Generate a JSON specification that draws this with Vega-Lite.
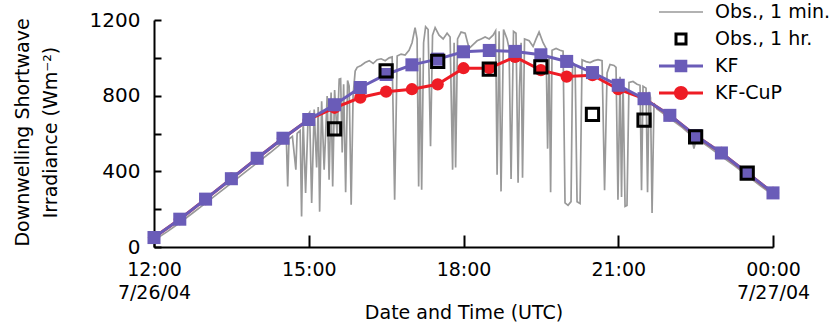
{
  "$schema": "https://vega.github.io/schema/vega-lite/v6.json",
  "width": 619,
  "height": 227,
  "autosize": {"type": "none"},
  "padding": {"left": 154, "top": 20, "right": 62, "bottom": 78},
  "background": "white",
  "config": {
    "view": {"stroke": null},
    "font": "DejaVu Sans",
    "axis": {
      "domainColor": "black", "domainWidth": 2, "tickColor": "black", "tickWidth": 2,
      "labelFont": "DejaVu Sans", "labelFontSize": 19, "labelColor": "black",
      "titleFont": "DejaVu Sans", "titleFontSize": 19, "titleFontWeight": "normal", "titleColor": "black",
      "grid": false
    },
    "legend": {"labelFont": "DejaVu Sans", "labelFontSize": 19, "labelColor": "black"}
  },
  "datasets": {
    "min1": [
      {"t": "2004-07-26T12:00:00Z", "v": 35},
      {"t": "2004-07-26T12:15:00Z", "v": 80},
      {"t": "2004-07-26T12:30:00Z", "v": 128},
      {"t": "2004-07-26T12:45:00Z", "v": 180},
      {"t": "2004-07-26T13:00:00Z", "v": 232},
      {"t": "2004-07-26T13:15:00Z", "v": 285},
      {"t": "2004-07-26T13:30:00Z", "v": 338},
      {"t": "2004-07-26T13:45:00Z", "v": 392},
      {"t": "2004-07-26T14:00:00Z", "v": 445},
      {"t": "2004-07-26T14:15:00Z", "v": 498},
      {"t": "2004-07-26T14:29:00Z", "v": 550},
      {"t": "2004-07-26T14:34:00Z", "v": 562},
      {"t": "2004-07-26T14:35:30Z", "v": 320},
      {"t": "2004-07-26T14:37:00Z", "v": 570},
      {"t": "2004-07-26T14:41:00Z", "v": 585},
      {"t": "2004-07-26T14:45:00Z", "v": 409},
      {"t": "2004-07-26T14:46:30Z", "v": 600},
      {"t": "2004-07-26T14:50:00Z", "v": 615},
      {"t": "2004-07-26T14:51:40Z", "v": 161},
      {"t": "2004-07-26T14:53:30Z", "v": 674},
      {"t": "2004-07-26T14:56:20Z", "v": 285},
      {"t": "2004-07-26T14:59:20Z", "v": 700},
      {"t": "2004-07-26T15:01:00Z", "v": 711},
      {"t": "2004-07-26T15:03:24Z", "v": 233},
      {"t": "2004-07-26T15:06:20Z", "v": 727},
      {"t": "2004-07-26T15:09:10Z", "v": 420},
      {"t": "2004-07-26T15:11:00Z", "v": 740},
      {"t": "2004-07-26T15:12:40Z", "v": 187},
      {"t": "2004-07-26T15:15:00Z", "v": 770},
      {"t": "2004-07-26T15:17:55Z", "v": 409},
      {"t": "2004-07-26T15:21:25Z", "v": 798},
      {"t": "2004-07-26T15:23:40Z", "v": 356},
      {"t": "2004-07-26T15:26:00Z", "v": 817},
      {"t": "2004-07-26T15:27:50Z", "v": 320},
      {"t": "2004-07-26T15:30:05Z", "v": 830},
      {"t": "2004-07-26T15:33:00Z", "v": 586},
      {"t": "2004-07-26T15:35:25Z", "v": 887},
      {"t": "2004-07-26T15:37:05Z", "v": 890},
      {"t": "2004-07-26T15:38:55Z", "v": 500},
      {"t": "2004-07-26T15:40:35Z", "v": 860},
      {"t": "2004-07-26T15:42:55Z", "v": 290},
      {"t": "2004-07-26T15:45:10Z", "v": 880},
      {"t": "2004-07-26T15:47:00Z", "v": 850},
      {"t": "2004-07-26T15:49:20Z", "v": 223},
      {"t": "2004-07-26T15:51:35Z", "v": 800},
      {"t": "2004-07-26T15:54:00Z", "v": 930},
      {"t": "2004-07-26T15:56:20Z", "v": 950},
      {"t": "2004-07-26T16:00:55Z", "v": 960},
      {"t": "2004-07-26T16:05:35Z", "v": 975},
      {"t": "2004-07-26T16:10:20Z", "v": 985},
      {"t": "2004-07-26T16:14:55Z", "v": 970},
      {"t": "2004-07-26T16:19:35Z", "v": 990},
      {"t": "2004-07-26T16:24:10Z", "v": 995},
      {"t": "2004-07-26T16:28:55Z", "v": 985},
      {"t": "2004-07-26T16:33:30Z", "v": 1000},
      {"t": "2004-07-26T16:37:00Z", "v": 1005},
      {"t": "2004-07-26T16:39:55Z", "v": 250},
      {"t": "2004-07-26T16:42:50Z", "v": 1010},
      {"t": "2004-07-26T16:47:25Z", "v": 1020},
      {"t": "2004-07-26T16:52:05Z", "v": 1015},
      {"t": "2004-07-26T16:56:40Z", "v": 1040},
      {"t": "2004-07-26T17:00:10Z", "v": 1080},
      {"t": "2004-07-26T17:03:40Z", "v": 1160},
      {"t": "2004-07-26T17:06:00Z", "v": 1100},
      {"t": "2004-07-26T17:07:50Z", "v": 320},
      {"t": "2004-07-26T17:09:30Z", "v": 1000},
      {"t": "2004-07-26T17:11:20Z", "v": 303},
      {"t": "2004-07-26T17:13:35Z", "v": 1080},
      {"t": "2004-07-26T17:15:55Z", "v": 1165},
      {"t": "2004-07-26T17:18:50Z", "v": 1150},
      {"t": "2004-07-26T17:21:40Z", "v": 533},
      {"t": "2004-07-26T17:24:00Z", "v": 1120},
      {"t": "2004-07-26T17:27:00Z", "v": 1160},
      {"t": "2004-07-26T17:31:35Z", "v": 1120},
      {"t": "2004-07-26T17:36:20Z", "v": 1100},
      {"t": "2004-07-26T17:40:55Z", "v": 1130},
      {"t": "2004-07-26T17:44:25Z", "v": 1110},
      {"t": "2004-07-26T17:47:20Z", "v": 409},
      {"t": "2004-07-26T17:49:05Z", "v": 1080},
      {"t": "2004-07-26T17:50:50Z", "v": 420},
      {"t": "2004-07-26T17:53:05Z", "v": 1100},
      {"t": "2004-07-26T17:57:10Z", "v": 1136},
      {"t": "2004-07-26T18:01:55Z", "v": 1130},
      {"t": "2004-07-26T18:06:30Z", "v": 1050},
      {"t": "2004-07-26T18:11:10Z", "v": 1070},
      {"t": "2004-07-26T18:15:50Z", "v": 1090},
      {"t": "2004-07-26T18:20:30Z", "v": 1100},
      {"t": "2004-07-26T18:25:10Z", "v": 1110},
      {"t": "2004-07-26T18:29:50Z", "v": 1100},
      {"t": "2004-07-26T18:34:25Z", "v": 1120},
      {"t": "2004-07-26T18:37:20Z", "v": 1143},
      {"t": "2004-07-26T18:39:05Z", "v": 382},
      {"t": "2004-07-26T18:41:25Z", "v": 1140},
      {"t": "2004-07-26T18:43:40Z", "v": 294},
      {"t": "2004-07-26T18:46:35Z", "v": 1150},
      {"t": "2004-07-26T18:50:40Z", "v": 1100},
      {"t": "2004-07-26T18:53:00Z", "v": 1050},
      {"t": "2004-07-26T18:55:20Z", "v": 360},
      {"t": "2004-07-26T18:58:10Z", "v": 1140},
      {"t": "2004-07-26T19:01:05Z", "v": 1130},
      {"t": "2004-07-26T19:03:30Z", "v": 340},
      {"t": "2004-07-26T19:05:10Z", "v": 844},
      {"t": "2004-07-26T19:07:00Z", "v": 1080},
      {"t": "2004-07-26T19:08:40Z", "v": 366},
      {"t": "2004-07-26T19:11:00Z", "v": 1100},
      {"t": "2004-07-26T19:16:20Z", "v": 1090},
      {"t": "2004-07-26T19:20:55Z", "v": 1060},
      {"t": "2004-07-26T19:24:25Z", "v": 1100},
      {"t": "2004-07-26T19:27:55Z", "v": 1136},
      {"t": "2004-07-26T19:32:35Z", "v": 1080},
      {"t": "2004-07-26T19:36:05Z", "v": 1050},
      {"t": "2004-07-26T19:37:50Z", "v": 520},
      {"t": "2004-07-26T19:39:35Z", "v": 1000},
      {"t": "2004-07-26T19:41:20Z", "v": 290},
      {"t": "2004-07-26T19:43:00Z", "v": 1040},
      {"t": "2004-07-26T19:47:40Z", "v": 1050},
      {"t": "2004-07-26T19:52:20Z", "v": 1040},
      {"t": "2004-07-26T19:55:50Z", "v": 1035},
      {"t": "2004-07-26T19:58:05Z", "v": 233},
      {"t": "2004-07-26T20:01:35Z", "v": 220},
      {"t": "2004-07-26T20:05:05Z", "v": 240},
      {"t": "2004-07-26T20:06:55Z", "v": 975},
      {"t": "2004-07-26T20:09:50Z", "v": 960},
      {"t": "2004-07-26T20:12:05Z", "v": 239},
      {"t": "2004-07-26T20:15:35Z", "v": 230},
      {"t": "2004-07-26T20:17:55Z", "v": 990},
      {"t": "2004-07-26T20:22:35Z", "v": 980},
      {"t": "2004-07-26T20:27:10Z", "v": 975},
      {"t": "2004-07-26T20:31:55Z", "v": 985},
      {"t": "2004-07-26T20:36:30Z", "v": 990},
      {"t": "2004-07-26T20:41:10Z", "v": 985},
      {"t": "2004-07-26T20:44:05Z", "v": 300},
      {"t": "2004-07-26T20:47:00Z", "v": 920},
      {"t": "2004-07-26T20:50:25Z", "v": 965},
      {"t": "2004-07-26T20:55:05Z", "v": 960},
      {"t": "2004-07-26T20:57:25Z", "v": 950},
      {"t": "2004-07-26T20:59:40Z", "v": 250},
      {"t": "2004-07-26T21:02:05Z", "v": 900},
      {"t": "2004-07-26T21:03:50Z", "v": 265},
      {"t": "2004-07-26T21:05:35Z", "v": 870},
      {"t": "2004-07-26T21:07:55Z", "v": 215},
      {"t": "2004-07-26T21:10:10Z", "v": 220},
      {"t": "2004-07-26T21:12:30Z", "v": 870},
      {"t": "2004-07-26T21:17:10Z", "v": 875},
      {"t": "2004-07-26T21:21:50Z", "v": 860},
      {"t": "2004-07-26T21:25:20Z", "v": 855},
      {"t": "2004-07-26T21:27:05Z", "v": 300},
      {"t": "2004-07-26T21:28:50Z", "v": 850},
      {"t": "2004-07-26T21:32:20Z", "v": 840},
      {"t": "2004-07-26T21:34:05Z", "v": 290},
      {"t": "2004-07-26T21:35:50Z", "v": 820},
      {"t": "2004-07-26T21:37:30Z", "v": 790},
      {"t": "2004-07-26T21:39:20Z", "v": 180},
      {"t": "2004-07-26T21:41:35Z", "v": 760},
      {"t": "2004-07-26T21:45:00Z", "v": 730},
      {"t": "2004-07-26T22:00:00Z", "v": 680},
      {"t": "2004-07-26T22:15:00Z", "v": 630},
      {"t": "2004-07-26T22:25:00Z", "v": 590},
      {"t": "2004-07-26T22:28:00Z", "v": 520},
      {"t": "2004-07-26T22:31:00Z", "v": 575},
      {"t": "2004-07-26T22:45:00Z", "v": 530},
      {"t": "2004-07-26T23:00:00Z", "v": 480},
      {"t": "2004-07-26T23:15:00Z", "v": 430},
      {"t": "2004-07-26T23:30:00Z", "v": 378},
      {"t": "2004-07-26T23:45:00Z", "v": 325},
      {"t": "2004-07-26T23:55:00Z", "v": 292}
    ],
    "kf": [
      {"t": "2004-07-26T12:00:00Z", "v": 50},
      {"t": "2004-07-26T12:30:00Z", "v": 147},
      {"t": "2004-07-26T13:00:00Z", "v": 253},
      {"t": "2004-07-26T13:30:00Z", "v": 361},
      {"t": "2004-07-26T14:00:00Z", "v": 469},
      {"t": "2004-07-26T14:30:00Z", "v": 575},
      {"t": "2004-07-26T15:00:00Z", "v": 674},
      {"t": "2004-07-26T15:30:00Z", "v": 752},
      {"t": "2004-07-26T16:00:00Z", "v": 843},
      {"t": "2004-07-26T16:30:00Z", "v": 912},
      {"t": "2004-07-26T17:00:00Z", "v": 963},
      {"t": "2004-07-26T17:30:00Z", "v": 993},
      {"t": "2004-07-26T18:00:00Z", "v": 1032},
      {"t": "2004-07-26T18:30:00Z", "v": 1039},
      {"t": "2004-07-26T19:00:00Z", "v": 1034},
      {"t": "2004-07-26T19:30:00Z", "v": 1016},
      {"t": "2004-07-26T20:00:00Z", "v": 981},
      {"t": "2004-07-26T20:30:00Z", "v": 922},
      {"t": "2004-07-26T21:00:00Z", "v": 855},
      {"t": "2004-07-26T21:30:00Z", "v": 784},
      {"t": "2004-07-26T22:00:00Z", "v": 696},
      {"t": "2004-07-26T22:30:00Z", "v": 589},
      {"t": "2004-07-26T23:00:00Z", "v": 497},
      {"t": "2004-07-26T23:30:00Z", "v": 391},
      {"t": "2004-07-27T00:00:00Z", "v": 286}
    ],
    "cup": [
      {"t": "2004-07-26T12:00:00Z", "v": 50},
      {"t": "2004-07-26T12:30:00Z", "v": 147},
      {"t": "2004-07-26T13:00:00Z", "v": 253},
      {"t": "2004-07-26T13:30:00Z", "v": 361},
      {"t": "2004-07-26T14:00:00Z", "v": 469},
      {"t": "2004-07-26T14:30:00Z", "v": 575},
      {"t": "2004-07-26T15:00:00Z", "v": 674},
      {"t": "2004-07-26T15:30:00Z", "v": 736},
      {"t": "2004-07-26T16:00:00Z", "v": 790},
      {"t": "2004-07-26T16:30:00Z", "v": 821},
      {"t": "2004-07-26T17:00:00Z", "v": 834},
      {"t": "2004-07-26T17:30:00Z", "v": 860},
      {"t": "2004-07-26T18:00:00Z", "v": 945},
      {"t": "2004-07-26T18:30:00Z", "v": 945},
      {"t": "2004-07-26T19:00:00Z", "v": 1005},
      {"t": "2004-07-26T19:30:00Z", "v": 935},
      {"t": "2004-07-26T20:00:00Z", "v": 901},
      {"t": "2004-07-26T20:30:00Z", "v": 908},
      {"t": "2004-07-26T21:00:00Z", "v": 834},
      {"t": "2004-07-26T21:30:00Z", "v": 784},
      {"t": "2004-07-26T22:00:00Z", "v": 696},
      {"t": "2004-07-26T22:30:00Z", "v": 589},
      {"t": "2004-07-26T23:00:00Z", "v": 497},
      {"t": "2004-07-26T23:30:00Z", "v": 391},
      {"t": "2004-07-27T00:00:00Z", "v": 286}
    ],
    "hr": [
      {"t": "2004-07-26T15:30:00Z", "v": 625},
      {"t": "2004-07-26T16:30:00Z", "v": 931},
      {"t": "2004-07-26T17:30:00Z", "v": 981},
      {"t": "2004-07-26T18:30:00Z", "v": 940},
      {"t": "2004-07-26T19:30:00Z", "v": 952},
      {"t": "2004-07-26T20:30:00Z", "v": 701},
      {"t": "2004-07-26T21:30:00Z", "v": 671},
      {"t": "2004-07-26T22:30:00Z", "v": 582},
      {"t": "2004-07-26T23:30:00Z", "v": 391}
    ],
    "series": [
      {"series": "Obs., 1 min."},
      {"series": "Obs., 1 hr."},
      {"series": "KF"},
      {"series": "KF-CuP"}
    ],
    "panel": [{"label": "c."}]
  },
  "encoding": {
    "x": {
      "field": "t", "type": "temporal",
      "scale": {"type": "utc", "domain": [{"year": 2004, "month": 7, "date": 26, "hours": 12, "utc": true}, {"year": 2004, "month": 7, "date": 27, "hours": 0, "utc": true}]},
      "axis": {
        "values": [
          {"year": 2004, "month": 7, "date": 26, "hours": 12, "utc": true},
          {"year": 2004, "month": 7, "date": 26, "hours": 15, "utc": true},
          {"year": 2004, "month": 7, "date": 26, "hours": 18, "utc": true},
          {"year": 2004, "month": 7, "date": 26, "hours": 21, "utc": true},
          {"year": 2004, "month": 7, "date": 27, "hours": 0, "utc": true}
        ],
        "labelExpr": "utcFormat(datum.value, '%H') == '12' ? ['12:00', '7/26/04'] : (utcFormat(datum.value, '%H') == '00' ? ['00:00', '7/27/04'] : utcFormat(datum.value, '%H:%M'))",
        "tickSize": -12,
        "labelPadding": 25,
        "labelFlush": false,
        "labelOverlap": false,
        "labelBound": false,
        "labelLineHeight": 23,
        "title": "Date and Time (UTC)",
        "titleBaseline": "alphabetic",
        "titleY": 71
      }
    },
    "y": {
      "field": "v", "type": "quantitative",
      "scale": {"domain": [0, 1200], "nice": false, "zero": true},
      "axis": {
        "values": [0, 200, 400, 600, 800, 1000, 1200],
        "labelExpr": "datum.value % 400 == 0 ? format(datum.value, 'd') : ''",
        "tickSize": -7,
        "labelPadding": 21,
        "labelOverlap": false,
        "labelBound": false,
        "labelFontSize": 20,
        "title": ["Downwelling Shortwave", "Irradiance (Wm⁻²)"],
        "titleLineHeight": 28,
        "titleAngle": -90,
        "titleBaseline": "middle",
        "titleAlign": "center",
        "titleX": -132,
        "titleY": 112
      }
    }
  },
  "layer": [
    {
      "data": {"name": "min1"},
      "mark": {"type": "line", "color": "#999999", "strokeWidth": 1.7, "clip": true}
    },
    {
      "data": {"name": "cup"},
      "mark": {"type": "line", "color": "#ee1c25", "strokeWidth": 3}
    },
    {
      "data": {"name": "cup"},
      "mark": {"type": "point", "shape": "circle", "filled": true, "color": "#ee1c25", "size": 150, "opacity": 1}
    },
    {
      "data": {"name": "kf"},
      "mark": {"type": "line", "color": "#6a5cb8", "strokeWidth": 3}
    },
    {
      "data": {"name": "kf"},
      "mark": {"type": "point", "shape": "square", "filled": true, "color": "#6a5cb8", "size": 170, "opacity": 1}
    },
    {
      "data": {"name": "hr"},
      "mark": {"type": "point", "shape": "square", "filled": false, "stroke": "black", "strokeWidth": 3, "fill": null, "size": 150, "opacity": 1}
    },
    {
      "data": {"name": "panel"},
      "mark": {"type": "text", "align": "left", "baseline": "middle", "fontSize": 20, "font": "DejaVu Sans", "color": "black"},
      "encoding": {
        "x": {"datum": {"year": 2004, "month": 7, "date": 26, "hours": 12, "minutes": 11, "utc": true}, "type": "temporal"},
        "y": {"datum": 1090, "type": "quantitative"},
        "text": {"field": "label"}
      }
    },
    {
      "data": {"name": "series"},
      "transform": [{"filter": "datum.series == 'none'"}],
      "mark": {"type": "point", "filled": true, "size": 400, "opacity": 1, "strokeWidth": 0},
      "encoding": {
        "x": null,
        "y": null,
        "color": {
          "field": "series", "type": "nominal",
          "scale": {"domain": ["Obs., 1 min.", "Obs., 1 hr.", "KF", "KF-CuP"], "range": ["#999999", "#000000", "#6a5cb8", "#ee1c25"]},
          "legend": {
            "title": null, "orient": "none", "legendX": 517, "legendY": -18, "padding": 0,
            "symbolSize": 400, "symbolStrokeWidth": 0, "rowPadding": 7, "labelOffset": 24,
            "labelFontSize": 19, "labelFont": "DejaVu Sans", "labelColor": "black"
          }
        },
        "shape": {
          "field": "series", "type": "nominal",
          "scale": {"domain": ["Obs., 1 min.", "Obs., 1 hr.", "KF", "KF-CuP"], "range": [
            "M-2.2,-0.08H2.2V0.08H-2.2Z",
            "M-0.65,-0.65H0.65V0.65H-0.65Z M-0.35,-0.35V0.35H0.35V-0.35Z",
            "M-2.2,-0.14H2.2V0.14H-2.2Z M-0.63,-0.63H0.63V0.63H-0.63Z",
            "M-2.2,-0.14H2.2V0.14H-2.2Z M-0.7,0A0.7,0.7 0 1,1 0.7,0A0.7,0.7 0 1,1 -0.7,0Z"
          ]},
          "legend": {
            "title": null, "orient": "none", "legendX": 517, "legendY": -18, "padding": 0,
            "symbolSize": 400, "symbolStrokeWidth": 0, "rowPadding": 7, "labelOffset": 24,
            "labelFontSize": 19, "labelFont": "DejaVu Sans", "labelColor": "black"
          }
        }
      }
    }
  ]
}
